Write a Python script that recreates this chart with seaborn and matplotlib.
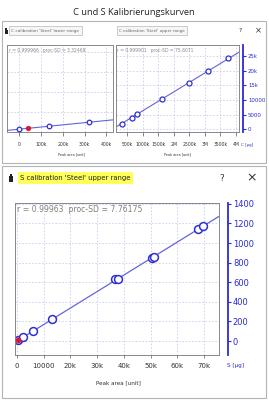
import numpy as np
import pandas as pd
import matplotlib
matplotlib.use("Agg")
import matplotlib.pyplot as plt
import seaborn as sns
from matplotlib.patches import Rectangle

# ---------------- data / texts ----------------
title = "C und S Kalibrierungskurven"
c_low_tab = "C calibration 'Steel' lower range"
c_up_tab = "C calibration 'Steel' upper range"
s_header = "S calibration 'Steel' upper range"
c_low_stats = "r = 0.999966   proc-SD = 3.32469"
c_up_stats = "r = 0.999901   proc-SD = 75.6071"
s_stats = "r = 0.99963  proc-SD = 7.76175"
x_label = "Peak area [unit]"
c_unit = "C [µg]"
s_unit = "S [µg]"

c_low_area = [0, 40000, 137000, 320000]
c_low_mass = [67, 92, 150, 242]
c_low_is_ref = [False, True, False, False]

c_up_area = [319000, 642000, 803000, 1610000, 2500000, 3113000, 3758000]
c_up_mass = [1945, 4000, 5220, 10240, 15900, 19900, 24200]

s_area = [400, 2300, 6000, 13100, 36700, 37900, 50600, 51300, 67800, 69700]
s_mass = [8, 40, 100, 222, 628, 632, 850, 855, 1144, 1175]
s_is_ref = [True, False, False, False, False, False, False, False, False, False]

c_low_xticks = [0, 100000, 200000, 300000, 400000]
c_low_xticklabels = ["0", "100k", "200k", "300k", "400k"]
c_low_ygrid = [500, 1000, 1500, 2000]
c_up_xticks = [500000, 1000000, 1500000, 2000000, 2500000, 3000000, 3500000, 4000000]
c_up_xticklabels = ["500k", "1000k", "1500k", "2M", "2500k", "3M", "3500k", "4M"]
c_yticks = [0, 5000, 10000, 15000, 20000, 25000]
c_yticklabels = ["0", "5000", "10000", "15k", "20k", "25k"]
s_xticks = [0, 10000, 20000, 30000, 40000, 50000, 60000, 70000]
s_xticklabels = ["0", "10000", "20k", "30k", "40k", "50k", "60k", "70k"]
s_yticks = [0, 200, 400, 600, 800, 1000, 1200, 1400]
s_yticklabels = ["0", "200", "400", "600", "800", "1000", "1200", "1400"]

# ---------------- style ----------------
sns.set_theme(style="white")
plt.rcParams["font.family"] = ["DejaVu Sans"]

BLUE_AX = "#2b2bd6"
LINE = "#6464dc"
MARK = "#2f2fd2"
RED = "#d5173a"
GRID = "#cbcbf0"
FRAME = "#8a8a8a"
BORDER = "#b4b4b4"

W, H = 269, 400
fig = plt.figure(figsize=(W / 100, H / 100), dpi=100)
fig.patch.set_facecolor("white")
renderer = fig.canvas.get_renderer()


def fx(x):
    return x / W


def fy(y):
    return 1 - y / H


def axrect(l, t, r, b):
    return [l / W, 1 - b / H, (r - l) / W, (b - t) / H]


def rect(l, t, r, b, z=-1, **kw):
    p = Rectangle((fx(l), fy(b)), (r - l) / W, (b - t) / H,
                  transform=fig.transFigure, zorder=z, **kw)
    fig.patches.append(p)
    return p


def fit_text(x, y, s, width, ha="left", **kw):
    t = fig.text(fx(x), fy(y), s, fontsize=10, ha=ha, va="center", **kw)
    w = t.get_window_extent(renderer).width
    t.set_fontsize(10 * width / w)
    return t


# ---------------- window decorations ----------------
rect(2, 21, 266, 163, z=-2, fc="white", ec=BORDER, lw=0.8)
rect(2, 166, 266, 398, z=-2, fc="white", ec=BORDER, lw=0.8)

fit_text(134, 12.5, title, 122, ha="center", family="Open Sans", color="#222222")

# tabs top
rect(9, 26, 82, 35, fc="#f6f6f6", ec="#b8b8b8", lw=0.5)
rect(117, 26, 187, 35, fc="#f6f6f6", ec="#b8b8b8", lw=0.5)
fit_text(11, 30.7, c_low_tab, 68, color="#666666")
fit_text(119, 30.7, c_up_tab, 65, color="#666666")
rect(4.5, 29.5, 7.5, 34, fc="#222222", ec="none")
rect(5.3, 28, 6.7, 29.5, fc="#222222", ec="none")
fig.text(fx(240), fy(31), "?", fontsize=4.5, ha="center", va="center", color="#333333")
fig.text(fx(258), fy(31), "×", fontsize=6, ha="center", va="center", color="#333333")

# header bottom
rect(18, 172, 133, 184, fc="#ffff5a", ec="none")
fit_text(20, 178.3, s_header, 111, color="#222222")
rect(9, 175.5, 13, 182, fc="#222222", ec="none")
rect(10.2, 173.5, 11.8, 175.5, fc="#222222", ec="none")
fig.text(fx(222), fy(178), "?", fontsize=6.5, ha="center", va="center", color="#333333")
fig.text(fx(252), fy(178), "×", fontsize=9, ha="center", va="center", color="#333333")


# ---------------- helpers for plots ----------------
def base_style(ax, xticks, xlabels, xfs, ygrid, tick_len, pad):
    ax.set_facecolor("white")
    for sp in ["left", "top", "bottom", "right"]:
        ax.spines[sp].set_color(FRAME)
        ax.spines[sp].set_linewidth(0.7)
    ax.set_xticks(xticks, xlabels)
    ax.set_yticks(ygrid)
    ax.grid(True, color=GRID, ls=(0, (2, 2)), lw=0.6)
    ax.set_axisbelow(True)
    ax.tick_params(axis="x", bottom=True, length=tick_len, width=0.5,
                   color="#555555", labelcolor="#333333", labelsize=xfs, pad=pad)


def blue_right_axis(ax, ticks, labels, fs, outward, tick_len, pad):
    ax.yaxis.tick_right()
    ax.set_yticks(ticks, labels)
    ax.spines["right"].set_position(("outward", outward))
    ax.spines["right"].set_color(BLUE_AX)
    ax.spines["right"].set_linewidth(1.3)
    ax.tick_params(axis="y", right=True, left=False, length=tick_len, width=0.8,
                   color=BLUE_AX, labelcolor=BLUE_AX, labelsize=fs, pad=pad)
    ax.add_patch(Rectangle((0, 0), 1, 1, transform=ax.transAxes, fill=False,
                           ec=FRAME, lw=0.7, clip_on=False, zorder=5))


def fit_line(ax, xs, ys, lw):
    k, d = np.polyfit(xs, ys, 1)
    lx = np.array(ax.get_xlim())
    df = pd.DataFrame({"x": lx, "y": k * lx + d})
    sns.lineplot(data=df, x="x", y="y", ax=ax, color=LINE, lw=lw, zorder=3)


def points(ax, xs, ys, s, lw, face="white"):
    df = pd.DataFrame({"x": xs, "y": ys})
    sns.scatterplot(data=df, x="x", y="y", ax=ax, s=s, marker="o",
                    color=face, edgecolor=MARK, linewidth=lw, zorder=4)


def ref_points(ax, xs, ys, flags, s):
    df = pd.DataFrame({"x": xs, "y": ys, "ref": flags})
    df = df[df["ref"]]
    sns.scatterplot(data=df, x="x", y="y", ax=ax, s=s, marker="o",
                    color=RED, edgecolor=RED, linewidth=0.5, zorder=6)


# ---------------- top-left: C lower range ----------------
ax1 = fig.add_axes(axrect(7, 45, 113, 132))
ax1.set_xlim(-56000, 430000)
ax1.set_ylim(0, 2175)
base_style(ax1, c_low_xticks, c_low_xticklabels, 3.3, c_low_ygrid, 3, 4)
ax1.tick_params(axis="y", left=False, labelleft=False)
fit_line(ax1, c_low_area, c_low_mass, 0.8)
blue_pts = [(a, m) for a, m, r in zip(c_low_area, c_low_mass, c_low_is_ref) if not r]
points(ax1, [b[0] for b in blue_pts], [b[1] for b in blue_pts], 11, 0.9)
ref_points(ax1, c_low_area, c_low_mass, c_low_is_ref, 11)
ax1.set_xlim(-56000, 430000)
ax1.set_ylim(0, 2175)
ax1.set_xlabel(""); ax1.set_ylabel("")
fit_text(9, 50.5, c_low_stats, 78, color="#8a8a8a")
fit_text(72, 154, x_label, 27, ha="center", color="#333333")

# ---------------- top-right: C upper range ----------------
ax2 = fig.add_axes(axrect(116, 45, 239, 132))
ax2.set_xlim(135000, 4103000)
ax2.set_ylim(-920, 28770)
base_style(ax2, c_up_xticks, c_up_xticklabels, 3.3, c_yticks, 3, 4)
blue_right_axis(ax2, c_yticks, c_yticklabels, 3.9, 3, 2, 1.5)
fit_line(ax2, c_up_area, c_up_mass, 0.8)
points(ax2, c_up_area, c_up_mass, 13, 0.9)
ax2.set_xlim(135000, 4103000)
ax2.set_ylim(-920, 28770)
ax2.set_xlabel(""); ax2.set_ylabel("")
fit_text(117, 50.5, c_up_stats, 78, color="#8a8a8a")
fit_text(178, 154, x_label, 27, ha="center", color="#333333")
fit_text(247, 144.5, c_unit, 12, ha="center", color=BLUE_AX)

# ---------------- bottom: S upper range ----------------
ax3 = fig.add_axes(axrect(15, 203, 219, 355))
ax3.set_xlim(-750, 75600)
ax3.set_ylim(-142, 1408)
base_style(ax3, s_xticks, s_xticklabels, 5.0, s_yticks, 2.5, 3.5)
blue_right_axis(ax3, s_yticks, s_yticklabels, 6.0, 6.5, 2.2, 1.3)
fit_line(ax3, s_area, s_mass, 0.9)
points(ax3, s_area, s_mass, 32, 1.1)
ref_points(ax3, s_area, s_mass, s_is_ref, 14)
ax3.set_xlim(-750, 75600)
ax3.set_ylim(-142, 1408)
ax3.set_xlabel(""); ax3.set_ylabel("")
fit_text(17, 210, s_stats, 125, color="#808080")
fit_text(118.5, 383, x_label, 45, ha="center", color="#333333")
fit_text(235.5, 366, s_unit, 17, ha="center", color=BLUE_AX)

fig.savefig("out.png", dpi=100, facecolor="white")
